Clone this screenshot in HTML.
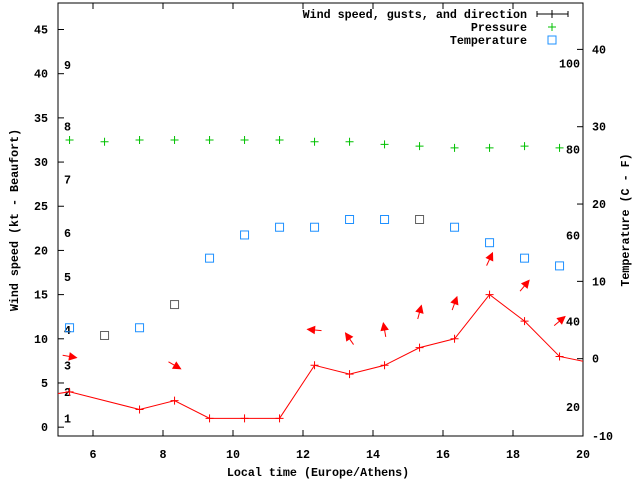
<!DOCTYPE html>
<html><head><meta charset="utf-8"><style>
html,body{margin:0;padding:0;background:#fff}
svg{display:block}
text{font-family:"Liberation Mono",monospace;font-weight:bold;font-size:11.7px;fill:#000}
</style></head><body>
<svg id="chart" width="640" height="480" viewBox="0 0 640 480" xmlns="http://www.w3.org/2000/svg"></svg>
<script>
const times = [4.33,5.33,6.33,7.33,8.33,9.33,10.33,11.33,12.33,13.33,14.33,15.33,16.33,17.33,18.33,19.33,20.33];
const wind = [3.4,4,null,2,3,1,1,1,7,6,7,9,10,15,12,8,7.2];
const arrowTimes = [5.33,8.33,12.33,13.33,14.33,15.33,16.33,17.33,18.33,19.33];
const arrowWind = [4,3,7,6,7,9,10,15,12,8];
const arrowDir = [100,120,275,325,350,15,20,25,40,50];
const tempTimes = [5.33,6.33,7.33,8.33,9.33,10.33,11.33,12.33,13.33,14.33,15.33,16.33,17.33,18.33,19.33];
const tempC = [4,3,4,7,13,16,17,17,18,18,18,17,15,13,12];
const tempGray = [0,1,0,1,0,0,0,0,0,0,1,0,0,0,0];
const pressure = [32.5,32.3,32.5,32.5,32.5,32.5,32.5,32.3,32.3,32.0,31.8,31.6,31.6,31.8,31.6];
const xTicks = [6,8,10,12,14,16,18,20];
const yTicks = [0,5,10,15,20,25,30,35,40,45];
const cTicks = [-10,0,10,20,30,40];
const fTicks = [20,40,60,80,100];
const bftNums = [1,2,3,4,5,6,7,8,9];
const bftKt = [1,4,7,11,17,22,28,34,41];

const L=58,R=583,T=3,B=436;
const X=t=>L+(t-5)/15*(R-L);
const Y=v=>B-(v+1)/49*(B-T);
const YC=c=>B-(c+10)/56*(B-T);
const svg=document.getElementById('chart');
const NS='http://www.w3.org/2000/svg';
function mk(tag,attrs,parent){const e=document.createElementNS(NS,tag);for(const k in attrs)e.setAttribute(k,attrs[k]);(parent||svg).appendChild(e);return e;}
function txt(x,y,s,anchor,name,parent){const e=mk('text',{x:x,y:y,'text-anchor':anchor||'start'},parent);e.textContent=s;return e;}

const defs=mk('defs',{});
const cp=mk('clipPath',{id:'clip'},defs);mk('rect',{x:L,y:T,width:R-L,height:B-T},cp);

// axes box
const frame=mk('rect',{x:L,y:T,width:R-L,height:B-T,fill:'none',stroke:'#000','stroke-width':1});



xTicks.forEach(t=>{const x=X(t);
 const a=mk('line',{x1:x,y1:B,x2:x,y2:B-6,stroke:'#000'});
 const b=mk('line',{x1:x,y1:T,x2:x,y2:T+6,stroke:'#000'});
 txt(x,458,String(t),'middle','x-tick-label');});
yTicks.forEach(v=>{const y=Y(v);
 const a=mk('line',{x1:L,y1:y,x2:L+6,y2:y,stroke:'#000'});
 txt(48,y+4,String(v),'end','y-tick-label');});
cTicks.forEach(c=>{const y=YC(c);
 const a=mk('line',{x1:R,y1:y,x2:R-6,y2:y,stroke:'#000'});
 txt(592,y+4,String(c),'start','y2-tick-label');});
fTicks.forEach(f=>{const y=YC((f-32)/1.8);txt(580,y+1,String(f),'end','fahrenheit-label');});
bftNums.forEach((n,i)=>{txt(64,Y(bftKt[i])+4,String(n),'start','beaufort-label');});

txt(318,476,'Local time (Europe/Athens)','middle','x-axis-title');
const yt=txt(0,0,'Wind speed (kt - Beaufort)','middle','y-axis-title');yt.setAttribute('transform','translate(18,220) rotate(-90)');
const y2t=txt(0,0,'Temperature (C - F)','middle','y2-axis-title');y2t.setAttribute('transform','translate(629,220) rotate(-90)');

const g=mk('g',{'clip-path':'url(#clip)'});



function plus(x,y,c,s,name){const p=mk('path',{d:`M${x-s},${y}H${x+s}M${x},${y-s}V${y+s}`,stroke:c,'stroke-width':1,fill:'none'},g);}

// pressure
pressure.forEach((p,i)=>plus(X(tempTimes[i]),Y(p),'#00c000',4,'pressure-point'));
// temperature
tempC.forEach((c,i)=>{const r=mk('rect',{x:X(tempTimes[i])-4,y:YC(c)-4,width:8,height:8,fill:'none',stroke:tempGray[i]?'#606060':'#1e90ff','stroke-width':1},g);
 });
// wind line
let d='';let pen=false;
wind.forEach((w,i)=>{if(w===null)return;d+=(pen?'L':'M')+X(times[i])+','+Y(w);pen=true;});
const wl=mk('path',{d:d,stroke:'#ff0000',fill:'none','stroke-width':1},g);

wind.forEach((w,i)=>{if(w!==null)plus(X(times[i]),Y(w),'#ff0000',4,'wind-point');});
// arrows
arrowDir.forEach((deg,i)=>{const cx=X(arrowTimes[i]),cy=Y(arrowWind[i]+4);const a=deg*Math.PI/180;
 const dx=Math.sin(a),dy=-Math.cos(a);const len=7;
 const hx=cx+dx*len,hy=cy+dy*len,tx=cx-dx*len,ty=cy-dy*len;
 const px=-dy,py=dx;
 const grp=mk('g',{},g);
 mk('line',{x1:tx,y1:ty,x2:hx,y2:hy,stroke:'#ff0000'},grp);
 mk('path',{d:`M${hx},${hy}L${hx-dx*7+px*3.5},${hy-dy*7+py*3.5}L${hx-dx*7-px*3.5},${hy-dy*7-py*3.5}Z`,fill:'#ff0000',stroke:'#ff0000'},grp);});

// legend
const lg=mk('g',{});
txt(527,18,'Wind speed, gusts, and direction','end','legend-label-wind',lg);
txt(527,31,'Pressure','end','legend-label-pressure',lg);
txt(527,44,'Temperature','end','legend-label-temperature',lg);
const lw=mk('path',{d:'M537,14H568M537,11V17M568,11V17M552,10V18',stroke:'#000',fill:'none'},lg);

const lp=mk('path',{d:'M548,27H556M552,23V31',stroke:'#00c000',fill:'none'},lg);

const lt=mk('rect',{x:548,y:36,width:8,height:8,fill:'none',stroke:'#1e90ff'},lg);

</script>
</body></html>
